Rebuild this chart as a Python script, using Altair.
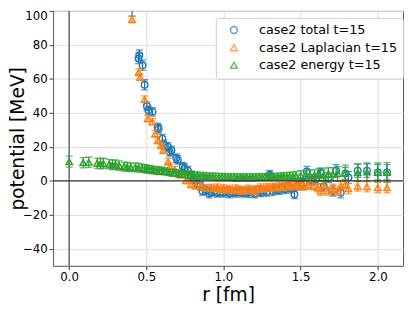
import altair as alt
import pandas as pd

series_names = ["case2 total t=15", "case2 Laplacian t=15", "case2 energy t=15"]
series_colors = ["#1f77b4", "#ff7f0e", "#2ca02c"]
series_shapes = ["circle", "triangle-up", "triangle-up"]

x_ticks = [0.0, 0.5, 1.0, 1.5, 2.0]
y_ticks = [-40, -20, 0, 20, 40, 60, 80, 100]

# case2 total t=15
r_total = [0.408, 0.450, 0.455, 0.476, 0.489, 0.504, 0.514, 0.540, 0.574, 0.580,
           0.604, 0.614, 0.641, 0.652, 0.663, 0.694, 0.704, 0.737, 0.748, 0.770,
           0.790, 0.810, 0.830, 0.850, 0.864, 0.890, 0.907, 0.920, 0.940, 0.960,
           0.980, 1.000, 1.020, 1.040, 1.060, 1.080, 1.100, 1.120, 1.140, 1.160,
           1.180, 1.200, 1.220, 1.240, 1.260, 1.280, 1.300, 1.320, 1.340, 1.360,
           1.380, 1.400, 1.420, 1.440, 1.460, 1.480, 1.500, 1.520, 1.540, 1.570,
           1.600, 1.630, 1.650, 1.680, 1.710, 1.730, 1.760, 1.790, 1.810, 1.870,
           1.930, 2.000, 2.060]
v_total = [106.0, 72.0, 74.0, 68.0, 56.5, 44.0, 41.5, 40.6, 31.5, 30.6,
           24.8, 21.5, 20.0, 17.0, 18.0, 13.3, 12.3, 8.4, 7.5, 6.0,
           3.0, 1.0, -1.5, -3.0, -6.0, -5.5, -7.5, -6.5, -6.0, -7.0,
           -6.5, -7.0, -6.0, -7.5, -6.5, -7.0, -6.0, -7.0, -6.5, -7.2,
           -6.0, -7.5, -5.5, -6.8, -5.8, -6.5, 3.6, -6.0, -4.5, -5.5,
           -4.0, -5.0, -3.5, -4.5, -7.9, -3.0, -2.0, -1.0, 5.5, 0.5,
           1.0, 4.6, -3.1, 2.0, -6.0, 6.0, -7.0, 4.4, 2.0, 6.0,
           6.0, 5.0, 5.0]
e_total = [9.0, 3.0, 3.0, 3.0, 3.0, 2.5, 2.5, 2.5, 2.5, 2.5,
           2.5, 2.5, 2.5, 2.5, 2.5, 2.5, 2.5, 2.5, 2.5, 2.5,
           2.5, 2.5, 2.5, 2.5, 2.5, 2.5, 2.5, 2.5, 2.5, 2.5,
           2.5, 2.5, 2.5, 2.5, 2.5, 2.5, 2.5, 2.5, 2.5, 2.5,
           2.5, 2.5, 2.5, 2.5, 2.5, 2.5, 2.5, 2.5, 2.5, 2.5,
           2.5, 2.5, 2.5, 2.5, 2.5, 2.5, 2.5, 2.5, 3.0, 3.0,
           3.0, 3.0, 3.0, 3.0, 3.0, 3.5, 3.0, 3.5, 3.5, 4.0,
           4.0, 4.5, 4.5]

# case2 Laplacian t=15
r_lap = [0.408, 0.451, 0.460, 0.489, 0.510, 0.540, 0.557, 0.574, 0.595, 0.610,
         0.641, 0.652, 0.684, 0.716, 0.758, 0.790, 0.820, 0.853, 0.880, 0.917,
         0.940, 0.960, 0.980, 1.000, 1.020, 1.040, 1.060, 1.080, 1.100, 1.120,
         1.140, 1.160, 1.180, 1.200, 1.220, 1.240, 1.260, 1.280, 1.300, 1.320,
         1.340, 1.360, 1.380, 1.400, 1.420, 1.440, 1.460, 1.480, 1.500, 1.520,
         1.550, 1.580, 1.610, 1.630, 1.650, 1.680, 1.710, 1.740, 1.760, 1.790,
         1.810, 1.870, 1.930, 2.000, 2.060]
v_lap = [95.0, 64.0, 61.0, 48.0, 36.7, 34.8, 27.7, 23.8, 21.0, 18.0,
         11.3, 8.4, 6.5, 3.6, 0.2, -2.1, -2.8, -3.1, -4.2, -4.0,
         -4.5, -3.8, -5.0, -4.2, -5.2, -4.6, -5.5, -4.4, -5.0, -6.0,
         -5.3, -4.5, -5.0, -6.2, -4.8, -3.8, -4.6, -3.6, -4.3, -3.4,
         -4.0, -3.2, -3.8, -3.0, -3.5, -2.8, -3.3, -2.6, -3.0, -3.5,
         -2.5, -3.2, -4.0, -6.0, -2.5, -6.0, -4.5, -6.0, -3.0, -2.0,
         -4.6, -3.1, -3.5, -4.0, -4.0]
e_lap = [2.0, 2.0, 2.0, 2.0, 2.0, 2.0, 2.0, 2.0, 2.0, 2.0,
         2.0, 2.0, 2.0, 2.0, 2.0, 2.0, 2.0, 2.0, 2.0, 2.0,
         2.0, 2.0, 2.0, 2.0, 2.0, 2.0, 2.0, 2.0, 2.0, 2.0,
         2.0, 2.0, 2.0, 2.0, 2.0, 2.0, 2.0, 2.0, 2.0, 2.0,
         2.0, 2.0, 2.0, 2.0, 2.0, 2.0, 2.0, 2.0, 2.0, 2.0,
         2.0, 2.0, 2.5, 2.5, 2.5, 2.5, 2.5, 2.5, 2.5, 2.5,
         3.0, 3.0, 3.0, 3.0, 3.0]

# case2 energy t=15
r_en = [0.000, 0.091, 0.127, 0.182, 0.203, 0.222, 0.260, 0.281, 0.300, 0.324,
        0.356, 0.377, 0.400, 0.430, 0.450, 0.472, 0.490, 0.504, 0.520, 0.536,
        0.550, 0.567, 0.585, 0.599, 0.615, 0.631, 0.650, 0.673, 0.690, 0.710,
        0.730, 0.750, 0.770, 0.790, 0.810, 0.830, 0.850, 0.870, 0.890, 0.910,
        0.930, 0.950, 0.970, 0.990, 1.010, 1.030, 1.050, 1.070, 1.090, 1.110,
        1.130, 1.150, 1.170, 1.190, 1.210, 1.230, 1.250, 1.270, 1.290, 1.310,
        1.330, 1.350, 1.370, 1.390, 1.410, 1.430, 1.450, 1.470, 1.500, 1.530,
        1.560, 1.590, 1.620, 1.650, 1.680, 1.710, 1.740, 1.790, 1.870, 1.930,
        2.000, 2.060]
v_en = [11.3, 10.7, 10.9, 10.4, 10.1, 10.3, 9.8, 9.4, 9.5, 9.0,
        8.4, 8.2, 7.9, 8.0, 7.6, 7.5, 7.2, 6.9, 6.8, 6.5,
        6.3, 6.1, 5.8, 6.1, 5.6, 5.5, 5.1, 4.6, 4.7, 4.3,
        4.0, 3.9, 3.6, 3.8, 3.2, 3.3, 2.9, 3.0, 2.6, 2.7,
        2.4, 2.5, 2.2, 2.4, 2.1, 2.3, 2.0, 2.2, 1.9, 2.1,
        2.0, 2.2, 1.9, 2.1, 2.0, 2.3, 2.1, 2.4, 2.2, 2.5,
        2.3, 2.6, 2.4, 2.7, 2.5, 2.8, 2.6, 3.0, 3.2, 3.0,
        3.5, 3.3, 3.8, 3.5, 4.0, 3.8, 4.2, 4.6, 4.8, 5.2,
        5.0, 5.0]
e_en = [3.2, 3.0, 3.0, 3.0, 3.0, 3.0, 2.8, 2.8, 2.8, 2.8,
        2.6, 2.6, 2.5, 2.5, 2.5, 2.4, 2.4, 2.3, 2.3, 2.2,
        2.2, 2.2, 2.1, 2.1, 2.0, 2.0, 2.0, 2.0, 2.0, 2.0,
        2.0, 2.0, 2.0, 2.0, 2.0, 2.0, 2.0, 2.0, 2.0, 2.0,
        2.0, 2.0, 2.0, 2.0, 2.0, 2.0, 2.0, 2.0, 2.0, 2.0,
        2.0, 2.0, 2.0, 2.0, 2.0, 2.0, 2.0, 2.0, 2.0, 2.0,
        2.0, 2.0, 2.2, 2.2, 2.4, 2.4, 2.6, 2.6, 2.8, 3.0,
        3.0, 3.2, 3.4, 3.5, 3.8, 4.0, 4.2, 4.6, 5.0, 5.3,
        5.5, 5.7]

rows = []
for name, rs, vs, es in [
    (series_names[0], r_total, v_total, e_total),
    (series_names[1], r_lap, v_lap, e_lap),
    (series_names[2], r_en, v_en, e_en),
]:
    for r, v, e in zip(rs, vs, es):
        rows.append({"series": name, "r": r, "v": v, "lo": v - e, "hi": v + e})
df = pd.DataFrame(rows)

xs = alt.Scale(domain=[-0.104, 2.164], nice=False, zero=False)
ys = alt.Scale(domain=[-50, 100], nice=False, zero=False)

x_axis = alt.Axis(values=x_ticks, format=".1f", title="r [fm]", titleFontSize=19,
                  titleFontWeight="normal", labelFontSize=12, tickSize=4,
                  labelPadding=2, titlePadding=3, domain=False, grid=True,
                  gridColor="#dddddd", tickColor="#333333", labelColor="#000000",
                  titleColor="#000000", labelFlush=False, labelOverlap=False)
y_axis = alt.Axis(values=y_ticks, format="d", title="potential [MeV]", titleFontSize=19,
                  titleFontWeight="normal", labelFontSize=12, tickSize=4,
                  labelPadding=2, titleX=-26, titleY=130, domain=False, grid=True,
                  gridColor="#dddddd", tickColor="#333333", labelColor="#000000",
                  titleColor="#000000", labelOverlap=False, labelFlush=True,
                  labelFlushOffset=0)

color_scale = alt.Scale(domain=series_names, range=series_colors)
shape_scale = alt.Scale(domain=series_names, range=series_shapes)

legend = alt.Legend(title=None, orient="none", legendX=166, legendY=7,
                    fillColor="#ffffff", strokeColor="#cccccc", cornerRadius=3,
                    padding=6, labelFontSize=13, labelColor="#000000",
                    symbolSize=50, symbolStrokeWidth=1.5, symbolOffset=6,
                    symbolFillColor="transparent",
                    labelOffset=19, rowPadding=4)

X = lambda f: alt.X(f, type="quantitative", scale=xs, axis=x_axis)
Y = lambda f: alt.Y(f, type="quantitative", scale=ys, axis=y_axis)
C = alt.Stroke("series:N", scale=color_scale, legend=legend)
S = alt.Shape("series:N", scale=shape_scale, legend=legend)

layers = []
for i, name in enumerate(series_names):
    b = alt.Chart(df).transform_filter(alt.datum.series == name)
    layers.append(b.mark_rule(strokeWidth=1.3, clip=True).encode(
        x=X("r"), y=Y("lo"), y2="hi:Q", stroke=C))
    for f in ("lo", "hi"):
        layers.append(b.mark_tick(orient="horizontal", size=6, thickness=0.01,
                                  filled=False, strokeWidth=1.3, clip=True).encode(
            x=X("r"), y=Y(f), stroke=C))
    layers.append(b.mark_point(filled=False, size=45, strokeWidth=1.4, opacity=1, clip=True).encode(
        x=X("r"), y=Y("v"), stroke=C, shape=S))

zero_df = pd.DataFrame({"x0": [0.0], "y0": [0.0]})
vline = alt.Chart(zero_df).mark_rule(color="#555555", strokeWidth=1.3).encode(x=X("x0"))
hline = alt.Chart(zero_df).mark_rule(color="#333333", strokeWidth=1.3).encode(y=Y("y0"))

chart = alt.layer(vline, *layers, hline).properties(
    width=357, height=260,
    autosize=alt.AutoSizeParams(type="none"),
    padding={"left": 46, "top": 0, "right": 4, "bottom": 38},
).configure(font="DejaVu Sans").configure_view(
    stroke="#555555", strokeWidth=1
)

chart.save("out.html", embed_options={"renderer": "svg", "actions": False})
